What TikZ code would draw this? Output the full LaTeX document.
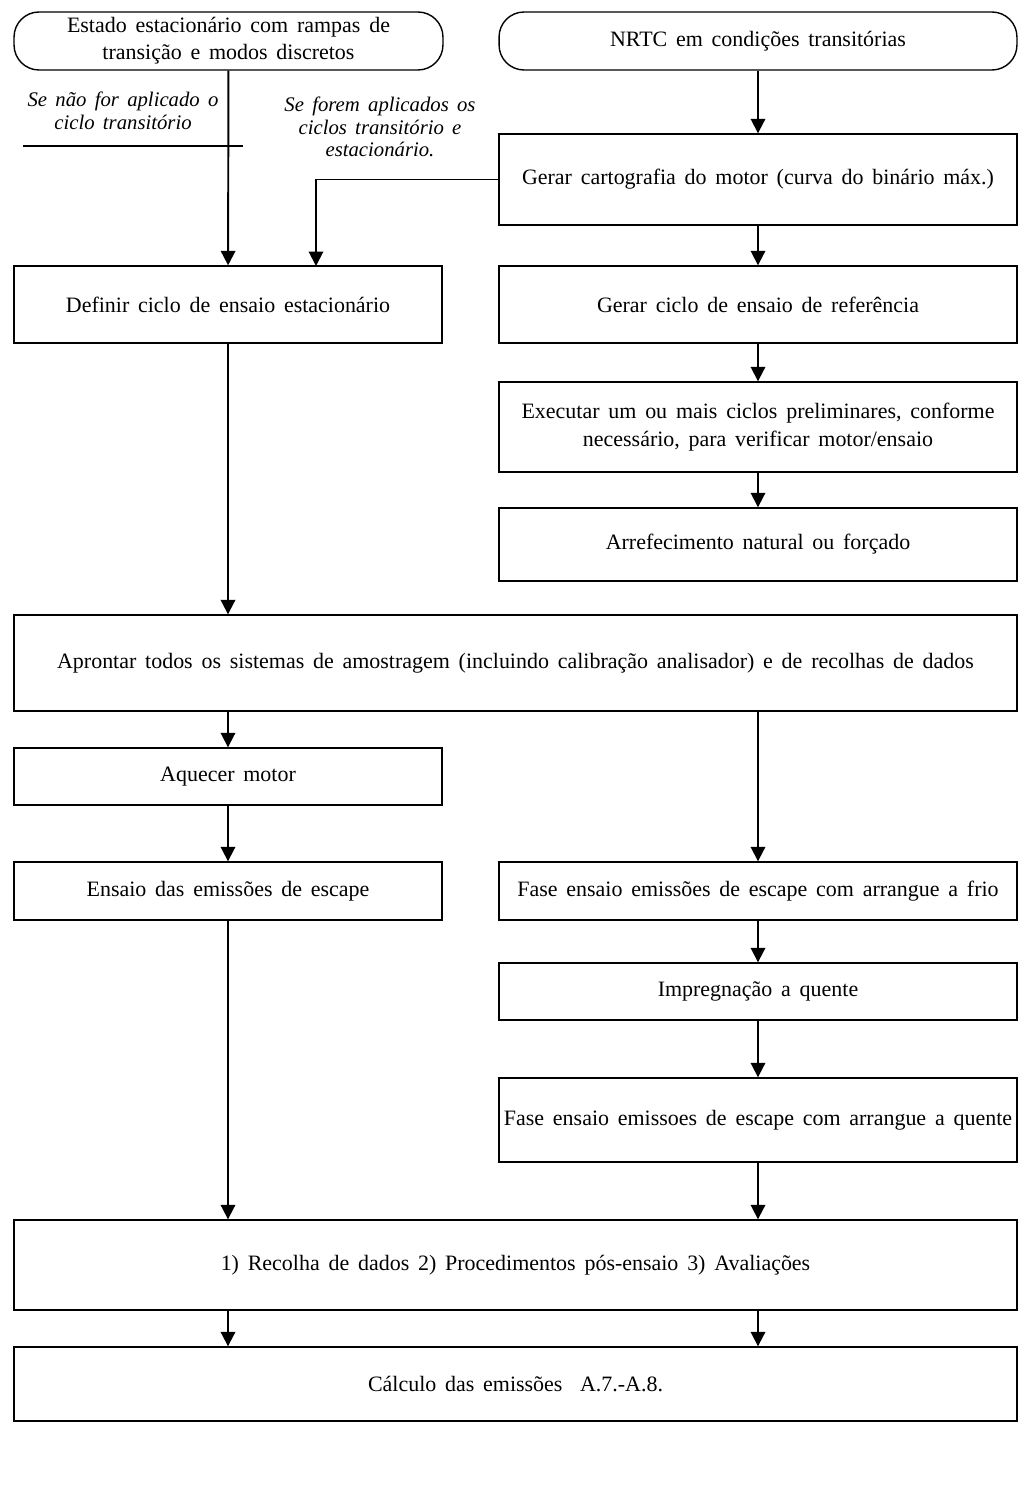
\documentclass[tikz,border=0pt]{standalone}
\usepackage{fontspec}
\setmainfont[WordSpace=1.6]{Liberation Serif}
\usepackage{tikz}
\usetikzlibrary{arrows.meta,calc,positioning}

\begin{document}
\begin{tikzpicture}[
    x=0.02cm,y=-0.02cm,
    font=\fontsize{12.5}{15.5}\selectfont,
    box/.style={draw,line width=0.8pt,align=center,inner sep=1pt},
    lbox/.style={box,minimum width=8.56cm},
    rbox/.style={box,minimum width=10.36cm},
    wbox/.style={box,minimum width=20.06cm},
    startbox/.style={box,rounded corners=0.5cm,minimum height=1.16cm},
    note/.style={align=center,font=\fontsize{11.8}{13}\selectfont\itshape},
    arr/.style={-{Triangle[length=2.9mm,width=2.9mm]},line width=1.1pt}]
    \useasboundingbox (0,0) rectangle (1025,1493);
    % top of the two branches
    \node[startbox,minimum width=8.58cm] (stat) at (228.5,41)
      {Estado estacionário com rampas de\\transição e modos discretos};
    \node[startbox,minimum width=10.36cm] (nrtc) at (758,41)
      {NRTC em condições transitórias};
    \node[note] (semtrans) at (123,111) {Se não for aplicado o\\ciclo transitório};
    \draw[line width=0.8pt] (23,146) -- (243,146);
    \node[note] (comtrans) at (380,127) {Se forem aplicados os\\ciclos transitório e\\estacionário.};
    % right branch
    \node[rbox,minimum height=1.82cm] (carto) at (758,179.5)
      {Gerar cartografia do motor (curva do binário máx.)};
    \node[rbox,minimum height=1.54cm] (gerar) at (758,304.5)
      {Gerar ciclo de ensaio de referência};
    \node[rbox,minimum height=1.80cm] (prelim) at (758,427)
      {Executar um ou mais ciclos preliminares, conforme\\necessário, para verificar motor/ensaio};
    \node[rbox,minimum height=1.46cm] (arref) at (758,544.5)
      {Arrefecimento natural ou forçado};
    % left branch
    \node[lbox,minimum height=1.54cm] (defin) at (228,304.5)
      {Definir ciclo de ensaio estacionário};
    \coordinate (tap) at (316,266);
    % common part
    \node[wbox,minimum height=1.92cm] (apront) at (515.5,663)
      {Aprontar todos os sistemas de amostragem (incluindo calibração analisador) e de recolhas de dados};
    \node[lbox,minimum height=1.14cm] (aquecer) at (228,776.5) {Aquecer motor};
    \node[lbox,minimum height=1.16cm] (ensaio) at (228,891) {Ensaio das emissões de escape};
    \node[rbox,minimum height=1.16cm] (frio) at (758,891)
      {Fase ensaio emissões de escape com arrangue a frio};
    \node[rbox,minimum height=1.14cm] (impreg) at (758,991.5) {Impregnação a quente};
    \node[rbox,minimum height=1.68cm] (quente) at (758,1120)
      {Fase ensaio emissoes de escape com arrangue a quente};
    \node[wbox,minimum height=1.80cm] (recolha) at (515.5,1265)
      {1) Recolha de dados 2) Procedimentos pós-ensaio 3) Avaliações};
    \node[wbox,minimum height=1.48cm] (calc) at (515.5,1384)
      {Cálculo das emissões \ A.7.-A.8.};

    \draw[arr] (stat) -- (defin);
    \draw[arr] (carto.west) -| (tap);
    \draw[arr] (nrtc) -- (carto);
    \draw[arr] (carto) -- (gerar);
    \draw[arr] (gerar) -- (prelim);
    \draw[arr] (prelim) -- (arref);
    \draw[arr] (defin) -- (defin |- apront.north);
    \draw[arr] (apront.south -| aquecer) -- (aquecer);
    \draw[arr] (apront.south -| frio) -- (frio);
    \draw[arr] (aquecer) -- (ensaio);
    \draw[arr] (frio) -- (impreg);
    \draw[arr] (impreg) -- (quente);
    \draw[arr] (ensaio) -- (ensaio |- recolha.north);
    \draw[arr] (quente) -- (quente |- recolha.north);
    \draw[arr] (recolha.south -| ensaio) -- (calc.north -| ensaio);
    \draw[arr] (recolha.south -| quente) -- (calc.north -| quente);
  \end{tikzpicture}
\end{document}
